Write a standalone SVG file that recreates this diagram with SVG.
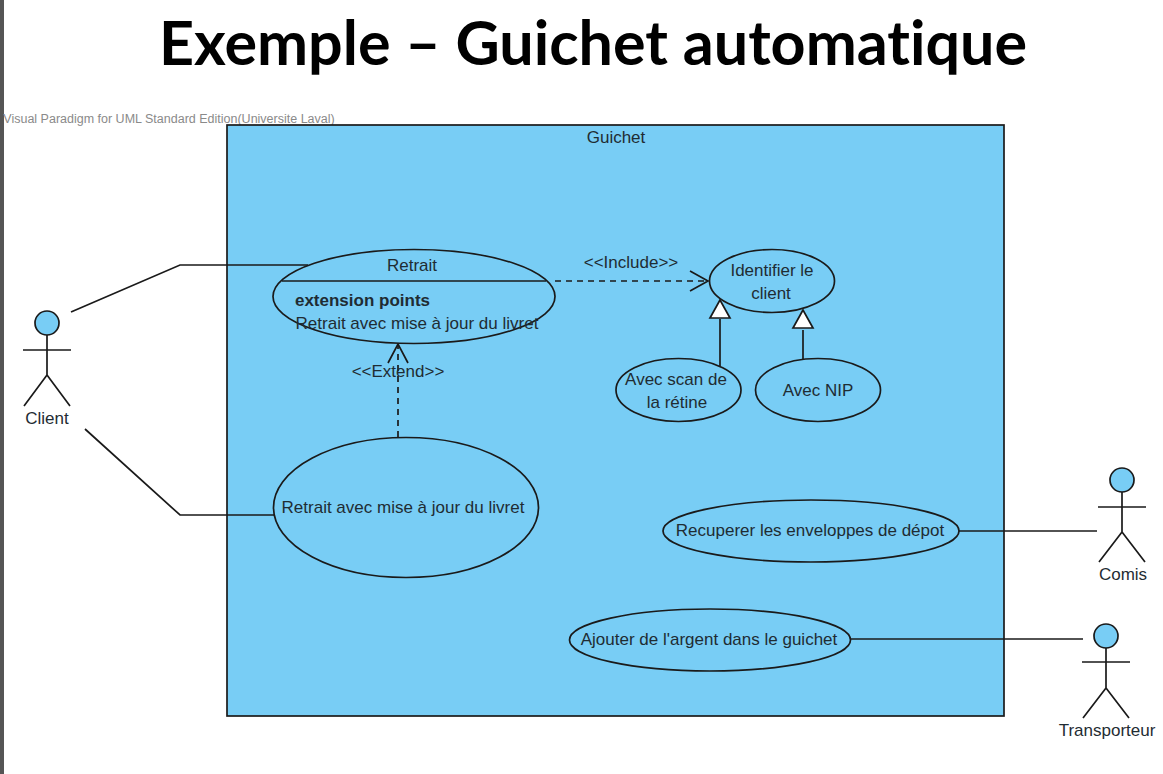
<svg xmlns="http://www.w3.org/2000/svg" width="1163" height="774" viewBox="0 0 1163 774">
<style>
.s{fill:none;stroke:#1a1a1a;stroke-width:1.7}
.u{fill:#78cdf5;stroke:#1a1a1a;stroke-width:1.7}
.d{stroke-dasharray:6 5}
text{font-family:"Liberation Sans",Arial,sans-serif;font-size:17px;fill:#1f2c33;text-anchor:middle}
</style>
<rect width="1163" height="774" fill="#fff"/>
<rect x="0" y="0" width="4" height="774" fill="#555"/>
<text x="593" y="65" style="font-family:Lato,'Open Sans',sans-serif;font-size:61px;font-weight:700;fill:#000;font-variant-ligatures:none">Exemple – Guichet automatique</text>
<text x="169" y="122.500" style="font-size:12.500px;fill:#8a8a8a">Visual Paradigm for UML Standard Edition(Universite Laval)</text>
<g id="system"><rect class="u" x="227" y="125" width="777" height="591"/><text x="616" y="142.500">Guichet</text></g>
<g id="connectors">
<path class="s" d="M71 312 180 265H308"/>
<path class="s" d="M85 429 180 515H274"/>
<path class="s d" d="M555 281H708"/>
<path class="s" d="M690 271 708 281 690 291"/>
<path class="s d" d="M398 437V344"/>
<path class="s" d="M388 363 398 344 408 363"/>
<path class="s" d="M720 366V319"/>
<path class="s" d="M803 359V330"/>
<path d="M720 300 710 318H730Z" fill="#fff" stroke="#1a1a1a" stroke-width="1.7"/>
<path d="M803 310 793 328H813Z" fill="#fff" stroke="#1a1a1a" stroke-width="1.7"/>
<path class="s" d="M959 531H1097"/>
<path class="s" d="M850 639H1083"/>
<text x="631" y="267.500">&lt;&lt;Include&gt;&gt;</text>
<text x="398" y="376.500">&lt;&lt;Extend&gt;&gt;</text>
</g>
<g id="retrait"><ellipse class="u" cx="414" cy="296.500" rx="141" ry="47"/><path class="s" d="M282 281H546"/><text x="412" y="270.500">Retrait</text><text x="362.500" y="305.500" style="font-weight:700;font-size:17px">extension points</text><text x="417" y="328.500">Retrait avec mise à jour du livret</text></g>
<g id="identifier"><ellipse class="u" cx="772" cy="281" rx="62.500" ry="31.500"/><text x="772" y="275.500">Identifier le</text><text x="771" y="298.500">client</text></g>
<g id="scan"><ellipse class="u" cx="678.500" cy="390" rx="62.500" ry="31.500"/><text x="676" y="384.500">Avec scan de</text><text x="677" y="407.500">la rétine</text></g>
<g id="nip"><ellipse class="u" cx="818" cy="390" rx="62.500" ry="31.500"/><text x="818" y="395.500">Avec NIP</text></g>
<g id="retrait-livret"><ellipse class="u" cx="406" cy="507.500" rx="132.500" ry="70"/><text x="403" y="512.500">Retrait avec mise à jour du livret</text></g>
<g id="enveloppes"><ellipse class="u" cx="811" cy="531" rx="148" ry="31"/><text x="810" y="535.500">Recuperer les enveloppes de dépot</text></g>
<g id="argent"><ellipse class="u" cx="710" cy="640" rx="140.500" ry="31"/><text x="709" y="644.500">Ajouter de l'argent dans le guichet</text></g>
<g id="client"><circle class="u" cx="47" cy="323" r="12"/><path class="s" d="M47 335V375M23 350H71M47 375 24 406M47 375 70 406"/><text x="47" y="423.500">Client</text></g>
<g id="comis"><circle class="u" cx="1122" cy="480" r="12"/><path class="s" d="M1122 492V532M1098 507H1146M1122 532 1099 562M1122 532 1145 562"/><text x="1123" y="579.500">Comis</text></g>
<g id="transporteur"><circle class="u" cx="1106" cy="636" r="12"/><path class="s" d="M1106 648V688M1082 662H1130M1106 688 1083 718M1106 688 1129 718"/><text x="1107" y="735.500">Transporteur</text></g>
</svg>
